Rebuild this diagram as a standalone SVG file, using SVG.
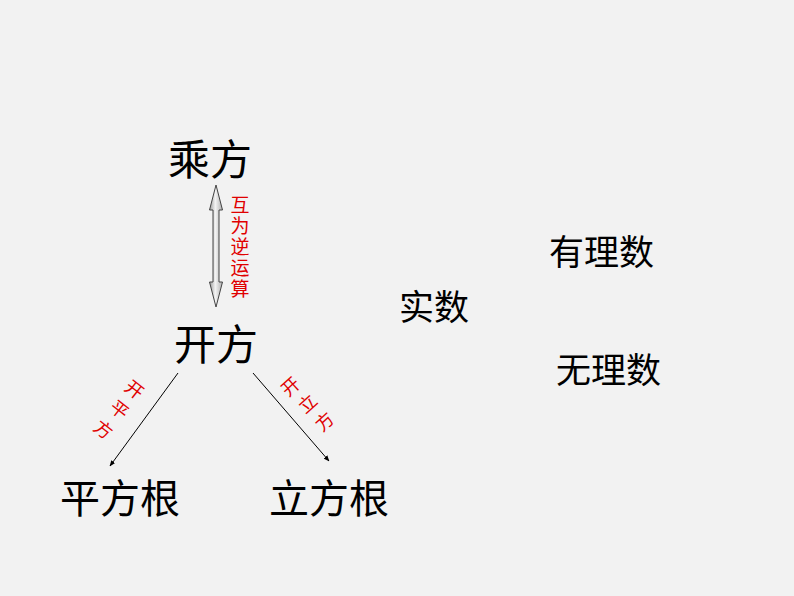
<svg xmlns="http://www.w3.org/2000/svg" width="794" height="596" viewBox="0 0 794 596">
<style>
.t{font-family:"Liberation Serif","Noto Sans CJK SC",serif;fill:#000;}
.lbl{font-family:"Liberation Serif","Noto Sans CJK SC",sans-serif;fill:#e00000;font-size:19px;text-anchor:middle;}
.dg{font-size:18px;}
.ln{stroke:#000;stroke-width:1;fill:none;}
</style>
<defs>
<linearGradient id="g" x1="0" y1="0" x2="1" y2="0">
<stop offset="0" stop-color="#9a9a9a"/>
<stop offset="0.45" stop-color="#f4f4f4"/>
<stop offset="1" stop-color="#b0b0b0"/>
</linearGradient>
<marker id="ah" viewBox="0 0 10 10" refX="9" refY="5" markerWidth="6" markerHeight="6" orient="auto" markerUnits="userSpaceOnUse">
<path d="M0,1 L10,5 L0,9 Z" fill="#000"/>
</marker>
</defs>
<rect width="794" height="596" fill="#f2f2f2"/>
<g id="n-chengfang"><text class="t" x="168" y="175" font-size="42">乘方</text></g>
<g id="n-kaifang"><text class="t" x="174" y="360" font-size="42">开方</text></g>
<g id="n-pingfanggen"><text class="t" x="60" y="513" font-size="40">平方根</text></g>
<g id="n-lifanggen"><text class="t" x="269" y="513" font-size="40">立方根</text></g>
<g id="n-shishu"><text class="t" x="399" y="320" font-size="35">实数</text></g>
<g id="n-youlishu"><text class="t" x="549" y="265" font-size="35">有理数</text></g>
<g id="n-wulishu"><text class="t" x="556" y="383" font-size="35">无理数</text></g>
<g id="connectors">
<path d="M216,185 L222.5,210 L219,210 L219,282 L222.5,282 L216,307 L209.5,282 L213,282 L213,210 L209.5,210 Z" fill="url(#g)" stroke="#444" stroke-width="1"/>
<line class="ln" x1="178" y1="373" x2="110" y2="466" marker-end="url(#ah)"/>
<line class="ln" x1="253" y1="373" x2="329" y2="461" marker-end="url(#ah)"/>
</g>
<g id="labels">
<text class="lbl" x="240" y="212">互</text>
<text class="lbl" x="240" y="233">为</text>
<text class="lbl" x="240" y="254">逆</text>
<text class="lbl" x="240" y="275">运</text>
<text class="lbl" x="240" y="296">算</text>
<text class="lbl dg" transform="translate(134,390) rotate(38)" dy="6">开</text>
<text class="lbl dg" transform="translate(119,410) rotate(38)" dy="6">平</text>
<text class="lbl dg" transform="translate(103,430) rotate(38)" dy="6">方</text>
<text class="lbl dg" transform="translate(291,387) rotate(-42)" dy="6">开</text>
<text class="lbl dg" transform="translate(308,404) rotate(-42)" dy="6">立</text>
<text class="lbl dg" transform="translate(325,422) rotate(-42)" dy="6">方</text>
</g>
</svg>
